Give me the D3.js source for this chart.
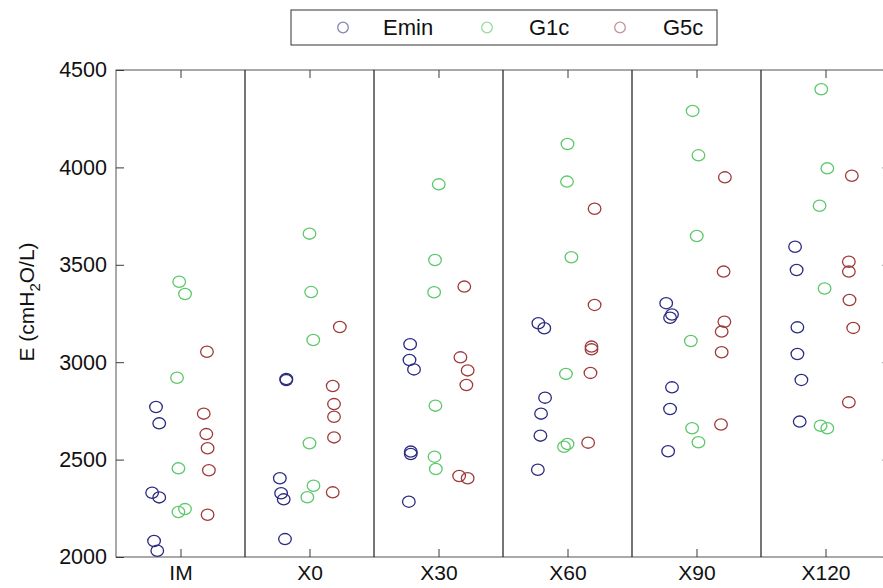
<!DOCTYPE html>
<html>
<head>
<meta charset="utf-8">
<script src="https://cdn.jsdelivr.net/npm/d3@7"></script>
<style>
  html, body { margin: 0; padding: 0; background: #fff; }
  svg { display: block; font-family: "Liberation Sans", Arial, sans-serif; }
</style>
</head>
<body>
<svg id="chart" width="883" height="588"></svg>
<script>
// ---- data ----
const categories = ["IM", "X0", "X30", "X60", "X90", "X120"];
const yTicks = [2000, 2500, 3000, 3500, 4000, 4500];
const seriesNames = ["Emin", "G1c", "G5c"];

const eminValues = [
  [2770, 2686, 2330, 2306, 2082, 2032],
  [2914, 2908, 2404, 2327, 2296, 2092],
  [3092, 3011, 2963, 2541, 2529, 2284],
  [3200, 3174, 2818, 2736, 2623, 2448],
  [3303, 3245, 3228, 2871, 2760, 2543],
  [3593, 3473, 3179, 3042, 2909, 2695]
];
const eminJitter = [
  [-0.19, -0.165, -0.22, -0.165, -0.205, -0.18],
  [-0.18, -0.18, -0.23, -0.22, -0.2, -0.19],
  [-0.22, -0.225, -0.19, -0.215, -0.215, -0.23],
  [-0.226, -0.18, -0.174, -0.205, -0.21, -0.23],
  [-0.235, -0.19, -0.205, -0.19, -0.205, -0.22],
  [-0.236, -0.224, -0.218, -0.218, -0.187, -0.2]
];

const g1cValues = [
  [3413, 3350, 2920, 2455, 2231, 2246],
  [3660, 3360, 3114, 2584, 2366, 2307],
  [3913, 3525, 3359, 2777, 2515, 2452],
  [4120, 3927, 3539, 2940, 2566, 2580],
  [4290, 4062, 3648, 3109, 2661, 2589],
  [4401, 3995, 3803, 3378, 2674, 2661]
];
const g1cJitter = [
  [-0.01, 0.035, -0.027, -0.016, -0.016, 0.035],
  [0, 0.013, 0.029, 0, 0.031, -0.017],
  [0.002, -0.027, -0.034, -0.024, -0.031, -0.021],
  [0, -0.004, 0.03, -0.012, -0.027, 0],
  [-0.03, 0.015, 0.002, -0.044, -0.034, 0.015],
  [-0.033, 0.014, -0.046, -0.007, -0.038, 0.014]
];

const g5cValues = [
  [3054, 2736, 2631, 2558, 2445, 2217],
  [3181, 2878, 2785, 2720, 2614, 2332],
  [3388, 3025, 2958, 2883, 2416, 2404],
  [3788, 3294, 3080, 3066, 2945, 2587],
  [3949, 3465, 3208, 3157, 3051, 2680],
  [3957, 3516, 3465, 3319, 3176, 2794]
];
const g5cJitter = [
  [0.205, 0.18, 0.2, 0.21, 0.22, 0.21],
  [0.235, 0.18, 0.19, 0.19, 0.19, 0.18],
  [0.2, 0.17, 0.226, 0.216, 0.16, 0.226],
  [0.21, 0.21, 0.186, 0.186, 0.178, 0.16],
  [0.22, 0.21, 0.216, 0.195, 0.195, 0.19],
  [0.204, 0.181, 0.181, 0.186, 0.215, 0.181]
];

const seriesColors = ["#2a2a80", "#5cc86a", "#9e3a3a"];
const legendColors = ["#8585b5", "#95dc9b", "#c29494"];

// ---- layout ----
const svg = d3.select("#chart");
const plot = { left: 116, right: 890, top: 70, bottom: 557 };

const x = d3.scaleLinear().domain([0.5, categories.length + 0.5]).range([plot.left, plot.right]);
const y = d3.scaleLinear().domain([2000, 4500]).range([plot.bottom, plot.top]);

const axisColor = "#3a3a3a";
const tickLen = 8;

// frame
svg.append("rect")
  .attr("x", plot.left).attr("y", plot.top)
  .attr("width", plot.right - plot.left).attr("height", plot.bottom - plot.top)
  .attr("fill", "none").attr("stroke", "#555").attr("stroke-width", 1);

// dividers between categories
svg.append("g").selectAll("line")
  .data(d3.range(1, categories.length))
  .join("line")
  .attr("x1", d => x(d + 0.5)).attr("x2", d => x(d + 0.5))
  .attr("y1", plot.top).attr("y2", plot.bottom)
  .attr("stroke", "#1a1a1a").attr("stroke-width", 1.2);

// y axis (left)
const yAxis = d3.axisLeft(y).tickValues(yTicks).tickSize(-tickLen).tickPadding(9).tickFormat(d3.format("d"));
const gy = svg.append("g").attr("transform", `translate(${plot.left},0)`).call(yAxis);
gy.select(".domain").remove();
gy.selectAll(".tick line").attr("stroke", axisColor);
gy.selectAll(".tick text")
  .attr("font-size", 21.5).attr("fill", "#111")
  .attr("font-family", "Liberation Sans, Arial, sans-serif");

// y ticks on right
const gyr = svg.append("g").attr("transform", `translate(${plot.right},0)`)
  .call(d3.axisRight(y).tickValues(yTicks).tickSize(-tickLen).tickFormat(""));
gyr.select(".domain").remove();
gyr.selectAll(".tick line").attr("stroke", "#999");

// x axis (bottom)
const xAxis = d3.axisBottom(x).tickValues(d3.range(1, categories.length + 1))
  .tickSize(-tickLen).tickPadding(8).tickFormat(d => categories[d - 1]);
const gx = svg.append("g").attr("transform", `translate(0,${plot.bottom})`).call(xAxis);
gx.select(".domain").remove();
gx.selectAll(".tick line").attr("stroke", axisColor);
gx.selectAll(".tick text")
  .attr("font-size", 21).attr("fill", "#111")
  .attr("font-family", "Liberation Sans, Arial, sans-serif");

// x ticks on top
const gxt = svg.append("g").attr("transform", `translate(0,${plot.top})`)
  .call(d3.axisTop(x).tickValues(d3.range(1, categories.length + 1)).tickSize(-tickLen).tickFormat(""));
gxt.select(".domain").remove();
gxt.selectAll(".tick line").attr("stroke", axisColor);

// y label
const yl = svg.append("text")
  .attr("transform", `translate(34,302) rotate(-90)`)
  .attr("text-anchor", "middle")
  .attr("font-size", 21).attr("fill", "#111");
yl.append("tspan").text("E (cmH");
yl.append("tspan").attr("font-size", 15).attr("dy", 6).text("2");
yl.append("tspan").attr("dy", -6).text("O/L)");

// points
const allSeries = [
  { vals: eminValues, jit: eminJitter },
  { vals: g1cValues, jit: g1cJitter },
  { vals: g5cValues, jit: g5cJitter }
];
allSeries.forEach((s, si) => {
  const pts = [];
  s.vals.forEach((arr, ci) => arr.forEach((v, k) => pts.push({ cx: ci + 1 + s.jit[ci][k], v })));
  svg.append("g").selectAll("ellipse")
    .data(pts)
    .join("ellipse")
    .attr("cx", d => x(d.cx))
    .attr("cy", d => y(d.v))
    .attr("rx", 6.3).attr("ry", 5.6)
    .attr("fill", "none")
    .attr("stroke", seriesColors[si])
    .attr("stroke-width", 1.3);
});

// legend
const lg = svg.append("g");
lg.append("rect").attr("x", 291).attr("y", 10).attr("width", 426).attr("height", 35)
  .attr("fill", "#fff").attr("stroke", "#333").attr("stroke-width", 1);
const legendMarkerX = [343, 487, 620];
const legendTextX = [383, 529, 663];
seriesNames.forEach((n, i) => {
  lg.append("ellipse").attr("cx", legendMarkerX[i]).attr("cy", 27.5)
    .attr("rx", 5.3).attr("ry", 5.3).attr("fill", "none")
    .attr("stroke", legendColors[i]).attr("stroke-width", 1.3);
  lg.append("text").attr("x", legendTextX[i]).attr("y", 35)
    .attr("font-size", 22).attr("fill", "#111").text(n);
});
</script>
</body>
</html>
